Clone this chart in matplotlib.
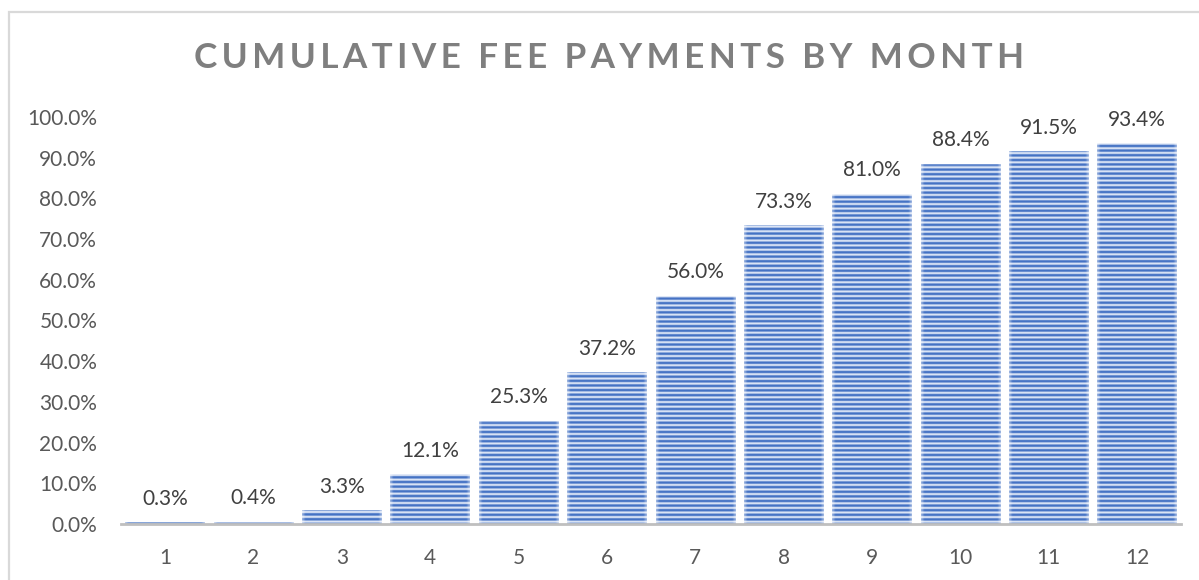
import matplotlib
matplotlib.use("Agg")
import matplotlib.pyplot as plt
import numpy as np
from matplotlib.patches import Rectangle

months = ["1", "2", "3", "4", "5", "6", "7", "8", "9", "10", "11", "12"]
values = [0.3, 0.4, 3.3, 12.1, 25.3, 37.2, 56.0, 73.3, 81.0, 88.4, 91.5, 93.4]
yticks = [0, 10, 20, 30, 40, 50, 60, 70, 80, 90, 100]
title = "CUMULATIVE FEE PAYMENTS BY MONTH"

plt.rcParams['font.family'] = ['Lato', 'DejaVu Sans']

W, H = 1199, 580
fig = plt.figure(figsize=(W / 100, H / 100), dpi=100)
ax_h_px = 524 - 117
ax = fig.add_axes([120.8 / W, 56 / H, (1181.4 - 120.8) / W, ax_h_px / H])
ax.set_xlim(-0.5, len(months) - 0.5)
ax.set_ylim(0, 100)

x = list(range(len(months)))
bar_w = 0.9
bars = ax.bar(x, values, width=bar_w, color="none", linewidth=0, zorder=2)

blue = np.array([68, 114, 196]) / 255
light = np.array([222, 231, 247]) / 255
white = np.array([1.0, 1.0, 1.0])
period = 4.6
px_per_unit_x = (1181.4 - 120.8) / len(months)
for b, v in zip(bars, values):
    hpx = v / 100 * ax_h_px
    rows = max(int(hpx * 4), 2)
    ys = (np.arange(rows) + 0.5) / rows * hpx
    t = np.clip(0.62 + 0.9 * np.cos(2 * np.pi * ys / period), 0, 1)
    col = light[None, :] + (blue - light)[None, :] * t[:, None]
    wpx = bar_w * px_per_unit_x
    cols = int(wpx * 2)
    xs = (np.arange(cols) + 0.5) / cols * wpx
    d = np.minimum(xs, wpx - xs)
    fade = np.clip(1 - d / 3.5, 0, 1) * 0.5
    img = col[:, None, :] * (1 - fade[None, :, None]) + white[None, None, :] * fade[None, :, None]
    dtop = hpx - ys
    tfade = np.clip(1 - dtop / 2.0, 0, 1) * 0.35
    img = img * (1 - tfade[:, None, None]) + white[None, None, :] * tfade[:, None, None]
    bx = b.get_x()
    ax.imshow(img, origin="lower", extent=(bx, bx + b.get_width(), 0, v),
              aspect="auto", interpolation="bilinear", zorder=2)

ax.set_xlim(-0.5, len(months) - 0.5)
ax.set_ylim(0, 100)

for xi, v in zip(x, values):
    ax.annotate(f"{v:.1f}%", (xi, v), xytext=(0, 10), textcoords="offset points",
                ha="center", va="bottom", fontsize=15, color="#404040")

ax.set_yticks(yticks)
ax.set_yticklabels([f"{t:.1f}%" for t in yticks])
ax.set_xticks(x)
ax.set_xticklabels(months)
ax.tick_params(axis="both", length=0, labelsize=15, labelcolor="#595959")
ax.tick_params(axis="y", pad=17)
ax.tick_params(axis="x", pad=17)
for s in ["top", "right", "left"]:
    ax.spines[s].set_visible(False)
ax.spines["bottom"].set_color("#bfbfbf")
ax.spines["bottom"].set_linewidth(2)
ax.spines["bottom"].set_zorder(4)

spaced = "\u2009".join(title)
fig.text(609 / W, 1 - 58 / H, spaced, ha="center", va="center",
         fontsize=25.3, fontweight="bold", color="#7f7f7f")

fig.patches.append(Rectangle((9 / W, -0.1), 1.2, 1 - 11.5 / H + 0.1,
                             transform=fig.transFigure, fill=False,
                             edgecolor="#d9d9d9", linewidth=1.6))

fig.savefig("out.png", dpi=100)
